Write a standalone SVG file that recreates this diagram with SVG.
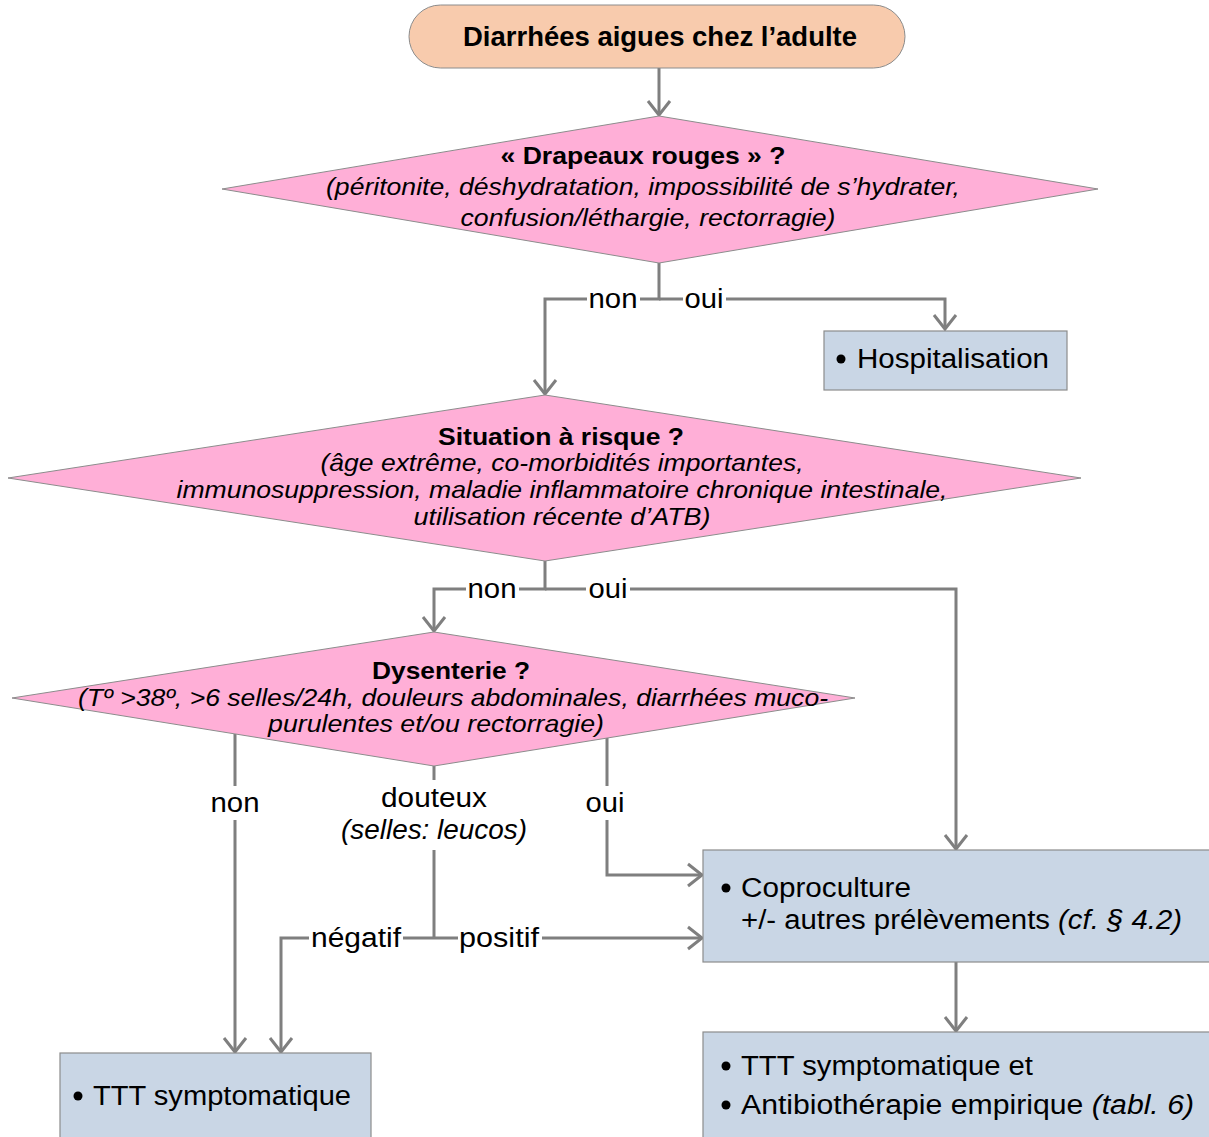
<svg xmlns="http://www.w3.org/2000/svg" width="1209" height="1137" viewBox="0 0 1209 1137">
<style>
.cn{fill:none;stroke:#7f7f7f;stroke-width:3}
.lbl{font-family:"Liberation Sans",Arial,sans-serif;font-size:27px;fill:#000}
.lb{fill:#fff}
.dq{fill:#ffafd7;stroke:#8c8c8c;stroke-width:1}
.bx{fill:#c9d6e5;stroke:#8c8c8c;stroke-width:1.2}
.db{font-family:"Liberation Sans",Arial,sans-serif;font-size:24px;font-weight:bold;text-anchor:middle}
.di{font-family:"Liberation Sans",Arial,sans-serif;font-size:24px;font-style:italic;text-anchor:middle}
.bt{font-family:"Liberation Sans",Arial,sans-serif;font-size:27px;fill:#000}
</style>
<defs>
<marker id="ah" markerUnits="userSpaceOnUse" markerWidth="26" markerHeight="26" viewBox="0 0 26 26" refX="17" refY="13" orient="auto">
<path d="M3,2 L17,13 L3,24" fill="none" stroke="#7f7f7f" stroke-width="3" stroke-linejoin="miter"/>
</marker>
</defs>

<g id="connectors">
<path class="cn" d="M659,68 V115" marker-end="url(#ah)"/>
<path class="cn" d="M659,263 V299 H545 V394" marker-end="url(#ah)"/>
<path class="cn" d="M659,299 H945 V329" marker-end="url(#ah)"/>
<path class="cn" d="M545,561 V589 H434 V631" marker-end="url(#ah)"/>
<path class="cn" d="M545,589 H956 V849" marker-end="url(#ah)"/>
<path class="cn" d="M235,734 V1052" marker-end="url(#ah)"/>
<path class="cn" d="M434,766 V938"/>
<path class="cn" d="M434,938 H281 V1052" marker-end="url(#ah)"/>
<path class="cn" d="M434,938 H702" marker-end="url(#ah)"/>
<path class="cn" d="M607,738 V875 H702" marker-end="url(#ah)"/>
<path class="cn" d="M956,962 V1031" marker-end="url(#ah)"/>
<rect class="lb" x="587" y="286" width="53" height="26"/>
<text class="lbl" x="613" y="308" text-anchor="middle" textLength="49" lengthAdjust="spacingAndGlyphs">non</text>
<rect class="lb" x="683" y="286" width="43" height="26"/>
<text class="lbl" x="704" y="308" text-anchor="middle" textLength="39" lengthAdjust="spacingAndGlyphs">oui</text>
<rect class="lb" x="466" y="576" width="53" height="26"/>
<text class="lbl" x="492" y="598" text-anchor="middle" textLength="49" lengthAdjust="spacingAndGlyphs">non</text>
<rect class="lb" x="586" y="576" width="44" height="26"/>
<text class="lbl" x="608" y="598" text-anchor="middle" textLength="39" lengthAdjust="spacingAndGlyphs">oui</text>
<rect class="lb" x="206" y="786" width="58" height="34"/>
<text class="lbl" x="235" y="812" text-anchor="middle" textLength="49" lengthAdjust="spacingAndGlyphs">non</text>
<rect class="lb" x="336" y="780" width="196" height="70"/>
<text class="lbl" x="434" y="807" text-anchor="middle" textLength="106" lengthAdjust="spacingAndGlyphs">douteux</text>
<text class="lbl" x="434" y="839" text-anchor="middle" font-style="italic" textLength="186" lengthAdjust="spacingAndGlyphs">(selles: leucos)</text>
<rect class="lb" x="580" y="786" width="54" height="34"/>
<text class="lbl" x="605" y="812" text-anchor="middle" textLength="39" lengthAdjust="spacingAndGlyphs">oui</text>
<rect class="lb" x="309" y="925" width="94" height="26"/>
<text class="lbl" x="356" y="947" text-anchor="middle" textLength="90" lengthAdjust="spacingAndGlyphs">négatif</text>
<rect class="lb" x="458" y="925" width="84" height="26"/>
<text class="lbl" x="499" y="947" text-anchor="middle" textLength="80" lengthAdjust="spacingAndGlyphs">positif</text>
</g>

<g id="start">
<rect x="409" y="5" width="496" height="63" rx="31.5" fill="#f8cbad" stroke="#8c8c8c" stroke-width="1"/>
<text class="bt" x="660" y="46" text-anchor="middle" font-weight="bold" font-size="28" textLength="394" lengthAdjust="spacingAndGlyphs">Diarrhées aigues chez l’adulte</text>
</g>

<g id="drapeaux">
<polygon class="dq" points="659,116 1098,189 659,263 222,189"/>
<text class="db" x="643" y="164" textLength="285" lengthAdjust="spacingAndGlyphs">« Drapeaux rouges » ?</text>
<text class="di" x="643" y="195" textLength="634" lengthAdjust="spacingAndGlyphs">(péritonite, déshydratation, impossibilité de s’hydrater,</text>
<text class="di" x="648" y="226" textLength="375" lengthAdjust="spacingAndGlyphs">confusion/léthargie, rectorragie)</text>
</g>

<g id="hospitalisation">
<rect class="bx" x="824" y="331" width="243" height="59"/>
<circle cx="841" cy="359" r="4.5" fill="#000"/>
<text class="bt" x="857" y="368" textLength="192" lengthAdjust="spacingAndGlyphs">Hospitalisation</text>
</g>

<g id="risque">
<polygon class="dq" points="545,395 1081,478 545,561 8,478"/>
<text class="db" x="561" y="445" textLength="246" lengthAdjust="spacingAndGlyphs">Situation à risque ?</text>
<text class="di" x="562" y="471" textLength="483" lengthAdjust="spacingAndGlyphs">(âge extrême, co-morbidités importantes,</text>
<text class="di" x="562" y="498" textLength="771" lengthAdjust="spacingAndGlyphs">immunosuppression, maladie inflammatoire chronique intestinale,</text>
<text class="di" x="562" y="525" textLength="297" lengthAdjust="spacingAndGlyphs">utilisation récente d’ATB)</text>
</g>

<g id="dysenterie">
<polygon class="dq" points="434,632 855,698 434,766 12,698"/>
<text class="db" x="451" y="679" textLength="158" lengthAdjust="spacingAndGlyphs">Dysenterie ?</text>
<text class="di" x="453" y="706" textLength="750" lengthAdjust="spacingAndGlyphs">(Tº &gt;38º, &gt;6 selles/24h, douleurs abdominales, diarrhées muco-</text>
<text class="di" x="436" y="732" textLength="336" lengthAdjust="spacingAndGlyphs">purulentes et/ou rectorragie)</text>
</g>

<g id="coproculture">
<rect class="bx" x="703" y="850" width="510" height="112"/>
<circle cx="726" cy="888" r="4.5" fill="#000"/>
<text class="bt" x="741" y="897" textLength="170" lengthAdjust="spacingAndGlyphs">Coproculture</text>
<text class="bt" x="741" y="929" textLength="441" lengthAdjust="spacingAndGlyphs">+/- autres prélèvements <tspan font-style="italic">(cf. § 4.2)</tspan></text>
</g>

<g id="antibio">
<rect class="bx" x="703" y="1032" width="510" height="110"/>
<circle cx="726" cy="1066" r="4.5" fill="#000"/>
<text class="bt" x="741" y="1075" textLength="292" lengthAdjust="spacingAndGlyphs">TTT symptomatique et</text>
<circle cx="726" cy="1105" r="4.5" fill="#000"/>
<text class="bt" x="741" y="1114" textLength="453" lengthAdjust="spacingAndGlyphs">Antibiothérapie empirique <tspan font-style="italic">(tabl. 6)</tspan></text>
</g>

<g id="ttt">
<rect class="bx" x="60" y="1053" width="311" height="90"/>
<circle cx="78" cy="1096" r="4.5" fill="#000"/>
<text class="bt" x="93" y="1105" textLength="258" lengthAdjust="spacingAndGlyphs">TTT symptomatique</text>
</g>
</svg>
